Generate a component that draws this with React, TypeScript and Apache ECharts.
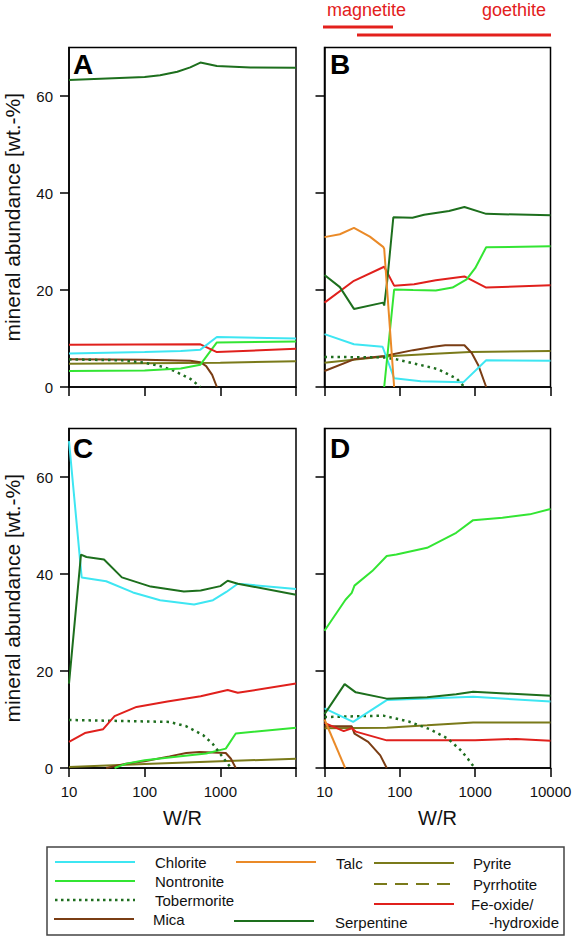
import React, { useEffect, useRef } from "react";
import * as echarts from "echarts";

// ---------- data: [W/R, wt.-%] ----------
// Panel A
const aSerpentine = [[10, 63.3], [100, 63.9], [160, 64.3], [270, 65.0], [400, 65.9], [545, 66.9], [900, 66.2], [2500, 65.9], [10000, 65.8]];
const aChlorite = [[10, 6.9], [100, 7.2], [300, 7.4], [545, 7.7], [900, 10.3], [10000, 10.0]];
const aFeOxide = [[10, 8.7], [545, 8.8], [900, 7.2], [10000, 7.9]];
const aNontronite = [[10, 3.3], [100, 3.4], [300, 3.8], [545, 4.6], [900, 9.2], [10000, 9.4]];
const aPyrite = [[10, 4.8], [100, 4.9], [1000, 5.0], [10000, 5.3]];
const aMica = [[10, 5.7], [100, 5.6], [400, 5.4], [545, 5.1], [650, 4.3], [780, 2.5], [900, 0]];
const aTobermorite = [[10, 5.7], [50, 5.5], [100, 5.0], [160, 4.3], [240, 3.4], [400, 1.7], [545, 0]];

// Panel B
const bTalc = [[10, 30.9], [16, 31.5], [24.6, 32.8], [40, 31.0], [60, 28.9], [62, 28.5], [84, 0]];
const bSerpentine = [[10, 23.1], [16, 20.6], [24.6, 16.1], [60, 17.4], [62, 16.8], [68, 21.9], [82, 35.0], [147, 34.9], [210, 35.5], [450, 36.3], [720, 37.1], [1400, 35.7], [10000, 35.4]];
const bFeOxide = [[10, 17.4], [24.6, 21.9], [62, 24.8], [84, 20.9], [155, 21.2], [300, 22.0], [720, 22.8], [1400, 20.5], [10000, 21.0]];
const bNontronite = [[62, 0], [84, 20.1], [150, 20.0], [300, 19.9], [500, 20.5], [770, 22.2], [1000, 24.5], [1400, 28.8], [10000, 29.0]];
const bChlorite = [[10, 10.9], [24.6, 8.8], [59, 8.3], [84, 1.8], [190, 1.2], [700, 1.0], [1400, 5.5], [10000, 5.4]];
const bMica = [[10, 3.3], [24.6, 5.7], [62, 6.4], [150, 7.6], [280, 8.3], [400, 8.6], [720, 8.6], [900, 7.0], [1100, 4.5], [1400, 0]];
const bPyrite = [[10, 5.0], [62, 6.3], [250, 6.8], [850, 7.2], [10000, 7.4]];
const bTobermorite = [[10, 6.2], [62, 6.1], [90, 5.7], [170, 4.7], [320, 3.7], [570, 1.7], [720, 0]];

// Panel C
const cChlorite = [[10, 67.4], [14.7, 39.3], [31, 38.5], [70, 36.2], [160, 34.6], [450, 33.7], [800, 34.6], [1200, 36.3], [1700, 38.0], [10000, 36.9]];
const cSerpentine = [[10, 17.4], [14.4, 44.0], [17, 43.5], [29, 43.0], [50, 39.3], [120, 37.4], [330, 36.4], [550, 36.6], [1000, 37.5], [1250, 38.6], [1700, 38.0], [10000, 35.7]];
const cFeOxide = [[10, 5.4], [16.2, 7.2], [28.3, 8.0], [40, 10.7], [78, 12.6], [200, 13.7], [550, 14.8], [1250, 16.1], [1700, 15.5], [10000, 17.4]];
const cTobermorite = [[10, 9.9], [213, 9.5], [355, 8.6], [590, 6.8], [790, 5.0], [1070, 2.3], [1380, 0]];
const cNontronite = [[40, 0], [57, 0.9], [100, 1.6], [260, 2.3], [650, 3.0], [1180, 4.0], [1600, 7.1], [10000, 8.3]];
const cMica = [[31, 0], [57, 0.9], [100, 1.4], [213, 2.4], [355, 3.1], [530, 3.3], [1180, 3.1], [1380, 1.9], [1600, 0]];
const cPyrite = [[10, 0.2], [100, 0.8], [1000, 1.4], [10000, 1.9]];

// Panel D
const dNontronite = [[10, 28.3], [19, 34.7], [23, 36.1], [25, 37.6], [43, 40.6], [67, 43.7], [90, 44.0], [230, 45.4], [560, 48.5], [940, 51.1], [2300, 51.6], [5300, 52.3], [10000, 53.4]];
const dSerpentine = [[10, 11.1], [18.5, 17.3], [26, 15.6], [67, 14.3], [230, 14.6], [560, 15.2], [940, 15.7], [10000, 14.9]];
const dChlorite = [[10, 12.3], [24, 9.5], [67, 14.0], [940, 14.7], [10000, 13.7]];
const dTobermorite = [[10, 10.5], [60, 10.8], [130, 9.6], [250, 8.0], [430, 6.1], [650, 3.6], [800, 1.9], [900, 0.8], [1000, 0]];
const dPyrite = [[10, 8.2], [67, 8.3], [230, 8.8], [940, 9.4], [10000, 9.4]];
const dFeOxide = [[10, 9.3], [18, 7.6], [23, 8.2], [26, 7.5], [67, 5.7], [1000, 5.7], [3500, 6.0], [10000, 5.6]];
const dMica = [[10, 8.6], [23, 8.6], [25, 7.1], [38, 5.4], [55, 2.6], [67, 0]];
const dTalc = [[10, 10.0], [18.8, 0]];

const panelLetters = ["A", "B", "C", "D"];
const xTickLabels = [10, 100, 1000, 10000];
const yTickValues = [0, 20, 40, 60];

const panels: [string, number[][]][][] = [
  [["Serpentine", aSerpentine], ["Pyrite", aPyrite], ["Mica", aMica], ["Tobermorite", aTobermorite], ["Nontronite", aNontronite], ["Fe-oxide", aFeOxide], ["Chlorite", aChlorite]],
  [["Pyrite", bPyrite], ["Mica", bMica], ["Tobermorite", bTobermorite], ["Chlorite", bChlorite], ["Fe-oxide", bFeOxide], ["Nontronite", bNontronite], ["Serpentine", bSerpentine], ["Talc", bTalc]],
  [["Pyrite", cPyrite], ["Mica", cMica], ["Nontronite", cNontronite], ["Tobermorite", cTobermorite], ["Fe-oxide", cFeOxide], ["Chlorite", cChlorite], ["Serpentine", cSerpentine]],
  [["Pyrite", dPyrite], ["Mica", dMica], ["Fe-oxide", dFeOxide], ["Tobermorite", dTobermorite], ["Chlorite", dChlorite], ["Serpentine", dSerpentine], ["Nontronite", dNontronite], ["Talc", dTalc]],
];

const COLORS: Record<string, string> = {
  Chlorite: "#3ee6f2",
  Nontronite: "#33e533",
  Tobermorite: "#1f6e1f",
  Mica: "#7a3d14",
  Talc: "#ea8a28",
  Serpentine: "#1d6f1d",
  Pyrite: "#7a7a1a",
  Pyrrhotite: "#7a7a1a",
  "Fe-oxide": "#e0201c",
};

const FONT = '"Liberation Sans", Arial, Helvetica, sans-serif';

const grids = [
  { left: 69, top: 47.5, width: 227, height: 339.5 },
  { left: 324.5, top: 47.5, width: 226, height: 339.5 },
  { left: 69, top: 428.5, width: 227, height: 339.5 },
  { left: 324.5, top: 428.5, width: 226, height: 339.5 },
];

function buildOption() {
  const series: any[] = [];
  panels.forEach((list, gi) => {
    list.forEach(([name, data]) => {
      const dotted = name === "Tobermorite";
      series.push({
        type: "line",
        name,
        xAxisIndex: gi,
        yAxisIndex: gi,
        data,
        symbol: "none",
        smooth: false,
        clip: true,
        lineStyle: {
          color: COLORS[name],
          width: dotted ? 2.5 : 2,
          type: dotted ? [2.5, 4] : "solid",
        },
      });
    });
  });

  const xAxis = grids.map((_, i) => ({
    type: "log",
    logBase: 10,
    min: 10,
    max: 10000,
    gridIndex: i,
    name: i >= 2 ? "W/R" : "",
    nameLocation: "middle",
    nameGap: 40,
    nameTextStyle: { fontFamily: FONT, fontSize: 20, color: "#111" },
    axisLine: { show: true, lineStyle: { color: "#000", width: 1.5 } },
    axisTick: { show: true, inside: false, length: 9, lineStyle: { color: "#000", width: 1.5 } },
    minorTick: { show: false },
    splitLine: { show: false },
    axisLabel: {
      show: i >= 2,
      fontFamily: FONT,
      fontSize: 15,
      color: "#111",
      margin: 16,
      formatter: (v: number) => (i === 2 && v >= 10000 ? "" : String(xTickLabels.find((t) => Math.abs(t - v) < 1e-6) ?? v)),
    },
  }));

  const yAxis = grids.map((_, i) => ({
    type: "value",
    min: 0,
    max: 70,
    gridIndex: i,
    name: i % 2 === 0 ? "mineral abundance [wt.-%]" : "",
    nameLocation: "middle",
    nameGap: 46,
    nameTextStyle: { fontFamily: FONT, fontSize: 21, color: "#111" },
    axisLine: { show: true, lineStyle: { color: "#000", width: 1.5 } },
    axisTick: { show: true, inside: false, length: 9, customValues: yTickValues, lineStyle: { color: "#000", width: 1.5 } },
    splitLine: { show: false },
    axisLabel: {
      show: i % 2 === 0,
      customValues: yTickValues,
      fontFamily: FONT,
      fontSize: 15,
      color: "#111",
      margin: 16,
    },
  }));

  const letterPos = [
    [73, 50], [330, 50], [73, 434], [330, 434],
  ];

  const graphic: any[] = [];
  panelLetters.forEach((t, i) => {
    graphic.push({
      type: "text",
      x: letterPos[i][0],
      y: letterPos[i][1],
      style: { text: t, font: `bold 28px ${FONT}`, fill: "#000", textAlign: "left", textVerticalAlign: "top" },
      z: 10,
    });
  });

  // magnetite / goethite annotation
  const red = "#e3201c";
  graphic.push(
    { type: "text", x: 327, y: 10, style: { text: "magnetite", font: `18px ${FONT}`, fill: red, textAlign: "left", textVerticalAlign: "middle" } },
    { type: "text", x: 482, y: 10, style: { text: "goethite", font: `18px ${FONT}`, fill: red, textAlign: "left", textVerticalAlign: "middle" } },
    { type: "line", shape: { x1: 323, y1: 27, x2: 393, y2: 27 }, style: { stroke: red, lineWidth: 3 } },
    { type: "line", shape: { x1: 357, y1: 35, x2: 551, y2: 35 }, style: { stroke: red, lineWidth: 3 } },
  );

  // legend box
  graphic.push({
    type: "rect",
    shape: { x: 47, y: 847, width: 517, height: 88 },
    style: { fill: "none", stroke: "#444", lineWidth: 1.5 },
  });
  const legendItems: { name: string; label: string; lx: number; ly: number; tx: number; ty: number; dash?: number[]; w?: number }[] = [
    { name: "Chlorite", label: "Chlorite", lx: 55, ly: 862, tx: 155, ty: 862 },
    { name: "Nontronite", label: "Nontronite", lx: 55, ly: 881, tx: 155, ty: 881 },
    { name: "Tobermorite", label: "Tobermorite", lx: 55, ly: 900, tx: 155, ty: 900, dash: [2.5, 3.5], w: 2.5 },
    { name: "Mica", label: "Mica", lx: 54, ly: 919, tx: 153, ty: 919 },
    { name: "Talc", label: "Talc", lx: 236, ly: 862, tx: 336, ty: 863 },
    { name: "Serpentine", label: "Serpentine", lx: 234, ly: 921, tx: 335, ty: 922 },
    { name: "Pyrite", label: "Pyrite", lx: 374, ly: 863, tx: 473, ty: 863 },
    { name: "Pyrrhotite", label: "Pyrrhotite", lx: 374, ly: 884, tx: 473, ty: 884 },
    { name: "Fe-oxide", label: "Fe-oxide/", lx: 374, ly: 904, tx: 471, ty: 904 },
  ];
  legendItems.forEach((it) => {
    const dash = it.name === "Pyrrhotite" ? [13, 8] : it.dash;
    graphic.push({
      type: "line",
      shape: { x1: it.lx, y1: it.ly, x2: it.lx + 80, y2: it.ly },
      style: { stroke: COLORS[it.name], lineWidth: it.w ?? 2, lineDash: dash ?? null },
    });
    graphic.push({
      type: "text",
      x: it.tx,
      y: it.ty,
      style: { text: it.label, font: `15px ${FONT}`, fill: "#111", textAlign: "left", textVerticalAlign: "middle" },
    });
  });
  graphic.push({
    type: "text",
    x: 489,
    y: 922,
    style: { text: "-hydroxide", font: `15px ${FONT}`, fill: "#111", textAlign: "left", textVerticalAlign: "middle" },
  });

  return {
    animation: false,
    backgroundColor: "#fff",
    textStyle: { fontFamily: FONT },
    grid: grids.map((g) => ({ ...g, show: true, borderColor: "#000", borderWidth: 1.5, backgroundColor: "transparent", containLabel: false })),
    xAxis,
    yAxis,
    series,
    graphic,
  };
}

export default function App() {
  const ref = useRef<HTMLDivElement>(null);
  useEffect(() => {
    if (!ref.current) return;
    const chart = echarts.init(ref.current, null, { renderer: "svg" });
    chart.setOption(buildOption() as any);
    return () => chart.dispose();
  }, []);
  return (
    <div
      ref={ref}
      style={{ position: "absolute", left: 0, top: 0, width: 577, height: 937, background: "#fff" }}
    />
  );
}
